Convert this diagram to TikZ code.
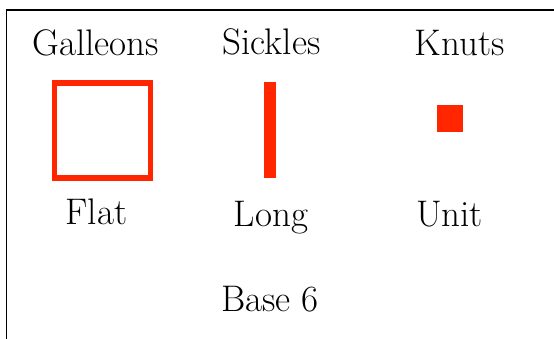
\documentclass[tikz,border=0pt]{standalone}
\definecolor{coinred}{RGB}{255,38,0}

\begin{document}
\begin{tikzpicture}[x=1pt, y=-1pt,
    lbl/.style = {anchor=base, inner sep=0pt, font=\fontsize{37}{44}\selectfont},
    piece/.style = {inner sep=0pt, outer sep=0pt}]
  \clip (0,0) rectangle (554,339);
  \draw[line width=1.3pt] (6.5,345) -- (6.5,10) -- (560,10);

  % coin names
  \node[lbl] (galleons) at (95.5,56) {Galleons};
  \node[lbl] (sickles) at (271.5,55) {Sickles};
  \node[lbl] (knuts) at (459.5,56) {Knuts};

  % blocks
  \node[piece, draw=coinred, line width=5.7pt, minimum width=96pt, minimum height=95.4pt] (flatblock) at (102.5,130.5) {};
  \node[piece, fill=coinred, minimum width=12pt, minimum height=96pt] (longblock) at (270,130) {};
  \node[piece, fill=coinred, minimum width=26pt, minimum height=27pt] (unitblock) at (450,118.5) {};

  % block names
  \node[lbl] (flat) at (96.5,225) {Flat};
  \node[lbl] (long) at (271,226) {Long};
  \node[lbl] (unit) at (449.5,226) {Unit};

  \node[lbl] (base) at (270,311) {Base 6};
\end{tikzpicture}
\end{document}
